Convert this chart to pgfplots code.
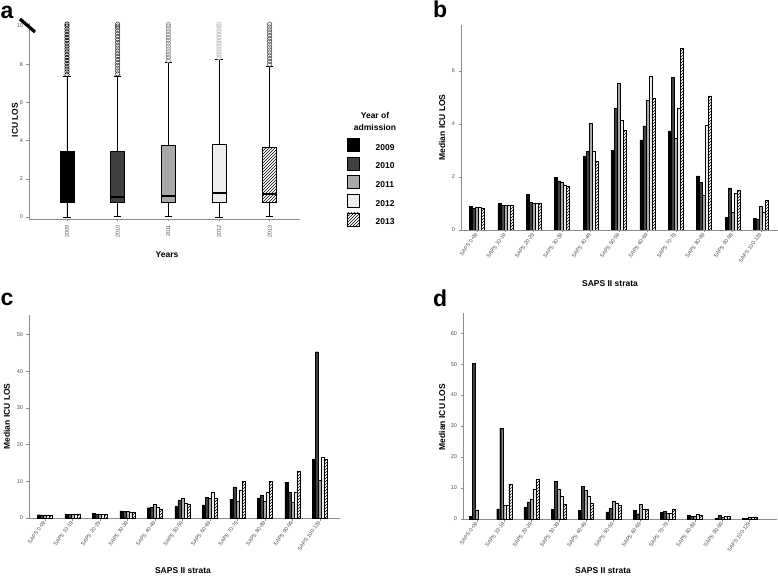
\documentclass[border=0pt]{standalone}
\usepackage{fontspec}
\setmainfont{Liberation Sans}
\usepackage{pgfplots}
\pgfplotsset{compat=1.18}
\usepackage{pgfplotstable}
\usepgfplotslibrary{statistics}
\usetikzlibrary{patterns}

\definecolor{cB}{HTML}{404040}
\definecolor{cC}{HTML}{A8A8A8}
\definecolor{cD}{HTML}{EDEDED}
\definecolor{axisgray}{HTML}{8C8C8C}
\definecolor{ticktext}{HTML}{505050}

\pgfplotstableread{
x y09 y10 y11 y12 y13
0 0.90 0.83 0.87 0.85 0.82
1 1.00 0.93 0.93 0.95 0.93
2 1.35 1.05 1.00 1.00 1.02
3 1.98 1.85 1.80 1.69 1.66
4 2.80 2.98 4.03 2.98 2.58
5 3.01 4.59 5.54 4.16 3.76
6 3.40 3.93 4.91 5.79 4.99
7 3.74 5.76 3.45 4.61 6.85
8 2.04 1.80 1.31 3.94 5.06
9 0.48 1.59 0.66 1.38 1.50
10 0.44 0.40 0.88 0.66 1.13
}\tabB

\pgfplotstableread{
x y09 y10 y11 y12 y13
0 0.90 0.85 0.85 0.85 0.80
1 1.00 0.95 0.95 0.95 0.95
2 1.30 1.10 1.05 1.00 1.00
3 1.95 1.85 1.80 1.70 1.65
4 2.80 3.00 3.80 3.00 2.50
5 3.30 4.90 5.50 4.10 3.80
6 3.60 5.70 5.30 6.90 5.30
7 5.00 8.50 4.50 7.60 9.90
8 5.50 6.10 4.60 7.10 10.00
9 9.80 6.90 4.40 7.10 12.70
10 16.10 45.30 10.30 16.60 15.90
}\tabC

\pgfplotstableread{
x y09 y10 y11 y12 y13
0 0.80 50.20 3.00 nan nan
1 3.30 29.30 4.60 4.60 11.30
2 3.70 5.50 6.30 9.70 12.90
3 3.20 12.20 9.70 7.40 4.90
4 2.70 10.60 9.30 7.40 5.20
5 2.30 3.40 5.70 5.10 4.30
6 2.70 1.70 4.80 3.10 3.10
7 2.10 2.40 1.90 1.90 3.10
8 1.20 0.90 0.80 1.70 1.20
9 0.30 1.20 0.50 0.90 0.90
10 0.30 0.30 0.70 0.70 0.60
}\tabD

\pgfplotsset{
  spss/.style={
    scale only axis,
    axis x line*=bottom, axis y line*=left,
    axis line style={axisgray, line width=0.6pt},
    tick align=outside, major tick length=2.5pt,
    tick style={axisgray, line width=0.5pt},
    /pgf/number format/assume math mode=true,
    yticklabel style={font=\fontsize{5.5}{6}\selectfont, text=ticktext},
    xticklabel style={font=\fontsize{5.4}{6}\selectfont, text=ticktext},
    label style={font=\bfseries\fontsize{8.5}{10}\selectfont},
  },
  saps/.style={
    spss, ybar=0pt, bar width=3pt, ymin=0,
    xtick={0,...,10},
    xticklabels={SAPS 0-09,SAPS 10-19,SAPS 20-29,SAPS 30-39,SAPS 40-49,SAPS 50-59,SAPS 60-69,SAPS 70-79,SAPS 80-89,SAPS 90-99,SAPS 100-129},
    xticklabel style={rotate=55, anchor=east, inner sep=1pt},
    xlabel={SAPS II strata}, ylabel={Median ICU LOS},
  },
  s09/.style={fill=black, draw=black, line width=0.4pt},
  s10/.style={fill=cB, draw=black, line width=0.4pt},
  s11/.style={fill=cC, draw=black, line width=0.4pt},
  s12/.style={fill=cD, draw=black, line width=0.4pt},
  s13/.style={fill=white, draw=black, line width=0.4pt, postaction={pattern=north east lines}},
}

\begin{document}
\begin{tikzpicture}
\useasboundingbox (0,0) rectangle (778pt,576pt);

% ---------------- panel a ----------------
\begin{axis}[spss,
  at={(29pt,357pt)}, anchor=south west,
  width=271pt, height=196pt,
  xmin=0.25, xmax=5.6, ymin=-0.1, ymax=10.16,
  xtick={1,2,3,4,5},
  xticklabels={2009,2010,2011,2012,2013},
  xticklabel style={rotate=90, anchor=east, font=\fontsize{5.5}{6}\selectfont},
  ytick={0,2,4,6,8,10},
  xlabel={Years}, ylabel={ICU LOS},
  xlabel style={at={(axis description cs:0.509,-0.184)}, anchor=center},
  ylabel style={at={(axis description cs:-0.052,0.505)}, anchor=center},
  boxplot/draw direction=y,
  boxplot/box extend=0.276, boxplot/whisker extend=0.14,
  boxplot/every median/.style={line width=1.6pt, draw=black},
  legend image code/.code={\draw[#1, line width=0.6pt] (0pt,-3.5pt) rectangle (12pt,9.5pt);},
  legend style={at={(axis description cs:1.173,0.413)}, anchor=north west,
    draw=none, fill=none, inner sep=0pt, row sep=5pt,
    nodes={inner sep=0pt},
    /tikz/every odd column/.append style={column sep=16pt},
    font=\bfseries\fontsize{8.5}{10}\selectfont, legend cell align=left,
    name=leg},
]
\addplot[s09, forget plot, boxplot prepared={draw position=1, lower whisker=0.0, lower quartile=0.78, median=1.0, upper quartile=3.45, upper whisker=7.35}] coordinates {};
\addplot[s10, forget plot, boxplot prepared={draw position=2, lower whisker=0.05, lower quartile=0.78, median=1.05, upper quartile=3.43, upper whisker=7.4}] coordinates {};
\addplot[s11, forget plot, boxplot prepared={draw position=3, lower whisker=0.05, lower quartile=0.80, median=1.10, upper quartile=3.78, upper whisker=8.1}] coordinates {};
\addplot[s12, forget plot, boxplot prepared={draw position=4, lower whisker=0.0, lower quartile=0.80, median=1.25, upper quartile=3.80, upper whisker=8.25}] coordinates {};
\addplot[draw=black, line width=0.4pt, forget plot,
  boxplot/every box/.style={draw=black, pattern=north east lines, pattern color=black},
  boxplot prepared={draw position=5, lower whisker=0.05, lower quartile=0.80, median=1.20, upper quartile=3.65, upper whisker=7.9}] coordinates {};
% outliers
\addplot[only marks, forget plot, mark=o, mark size=2.2pt, black, line width=0.6pt] coordinates {
(1,7.45)(1,7.6)(1,7.75)(1,7.9)(1,8.05)(1,8.2)(1,8.35)(1,8.5)(1,8.65)(1,8.8)(1,8.95)(1,9.1)(1,9.25)(1,9.4)(1,9.55)(1,9.7)(1,9.85)(1,10.0)(1,10.1)};
\addplot[only marks, forget plot, mark=o, mark size=2.2pt, black!75, line width=0.6pt] coordinates {
(2,7.5)(2,7.65)(2,7.8)(2,7.95)(2,8.1)(2,8.25)(2,8.4)(2,8.55)(2,8.7)(2,8.85)(2,9.0)(2,9.15)(2,9.3)(2,9.45)(2,9.6)(2,9.75)(2,9.9)(2,10.0)(2,10.1)};
\addplot[only marks, forget plot, mark=o, mark size=2.2pt, black!45, line width=0.6pt] coordinates {
(3,8.2)(3,8.35)(3,8.5)(3,8.65)(3,8.8)(3,8.95)(3,9.1)(3,9.25)(3,9.4)(3,9.55)(3,9.7)(3,9.85)(3,10.0)(3,10.1)};
\addplot[only marks, forget plot, mark=o, mark size=2.2pt, black!25, line width=0.6pt] coordinates {
(4,8.35)(4,8.5)(4,8.65)(4,8.8)(4,8.95)(4,9.1)(4,9.25)(4,9.4)(4,9.55)(4,9.7)(4,9.85)(4,10.0)(4,10.1)};
\addplot[only marks, forget plot, mark=o, mark size=2.2pt, black!65, line width=0.6pt] coordinates {
(5,8.0)(5,8.15)(5,8.3)(5,8.45)(5,8.6)(5,8.75)(5,8.9)(5,9.05)(5,9.2)(5,9.35)(5,9.5)(5,9.65)(5,9.8)(5,9.95)(5,10.1)};
\addlegendimage{s09}\addlegendentry{2009}
\addlegendimage{s10}\addlegendentry{2010}
\addlegendimage{s11}\addlegendentry{2011}
\addlegendimage{s12}\addlegendentry{2012}
\addlegendimage{s13}\addlegendentry{2013}
\end{axis}
\node[font=\bfseries\fontsize{8.5}{12}\selectfont, align=center] at (375pt,455pt) {Year of\\admission};
\draw[line width=3.2pt, black] (20pt,557pt) -- (35pt,544pt);

% ---------------- panel b ----------------
\begin{axis}[saps,
  at={(461pt,346pt)}, anchor=south west,
  width=317pt, height=205pt,
  xmin=-0.56, xmax=10.6, ymax=7.74,
  ytick={0,2,4,6},
  xlabel style={at={(axis description cs:0.47,-0.259)}, anchor=center},
  ylabel style={at={(axis description cs:-0.06,0.5)}, anchor=center},
]
\addplot[s09] table[x=x, y=y09] {\tabB};
\addplot[s10] table[x=x, y=y10] {\tabB};
\addplot[s11] table[x=x, y=y11] {\tabB};
\addplot[s12] table[x=x, y=y12] {\tabB};
\addplot[s13] table[x=x, y=y13] {\tabB};
\end{axis}

% ---------------- panel c ----------------
\begin{axis}[saps,
  at={(29pt,58pt)}, anchor=south west,
  width=311pt, height=203pt,
  xmin=-0.58, xmax=10.73, ymax=55.3,
  ytick={0,10,20,30,40,50},
  xlabel style={at={(axis description cs:0.495,-0.26)}, anchor=center},
  ylabel style={at={(axis description cs:-0.071,0.5)}, anchor=center},
]
\addplot[s09] table[x=x, y=y09] {\tabC};
\addplot[s10] table[x=x, y=y10] {\tabC};
\addplot[s11] table[x=x, y=y11] {\tabC};
\addplot[s12] table[x=x, y=y12] {\tabC};
\addplot[s13] table[x=x, y=y13] {\tabC};
\end{axis}

% ---------------- panel d ----------------
\begin{axis}[saps,
  at={(463pt,57pt)}, anchor=south west,
  width=314pt, height=206pt,
  xmin=-0.51, xmax=11.0, ymax=66.5,
  ytick={0,10,20,30,40,50,60},
  xlabel style={at={(axis description cs:0.446,-0.252)}, anchor=center},
  ylabel style={at={(axis description cs:-0.067,0.495)}, anchor=center},
]
\addplot[s09] table[x=x, y=y09] {\tabD};
\addplot[s10] table[x=x, y=y10] {\tabD};
\addplot[s11] table[x=x, y=y11] {\tabD};
\addplot[s12] table[x=x, y=y12] {\tabD};
\addplot[s13] table[x=x, y=y13] {\tabD};
\end{axis}

% panel letters
\node[anchor=north west, inner sep=0pt, font=\bfseries\fontsize{23}{24}\selectfont] at (0.5pt,570pt) {a};
\node[anchor=north west, inner sep=0pt, font=\bfseries\fontsize{23}{24}\selectfont] at (433pt,575pt) {b};
\node[anchor=north west, inner sep=0pt, font=\bfseries\fontsize{23}{24}\selectfont] at (0.5pt,283pt) {c};
\node[anchor=north west, inner sep=0pt, font=\bfseries\fontsize{23}{24}\selectfont] at (433pt,286pt) {d};
\end{tikzpicture}
\end{document}
